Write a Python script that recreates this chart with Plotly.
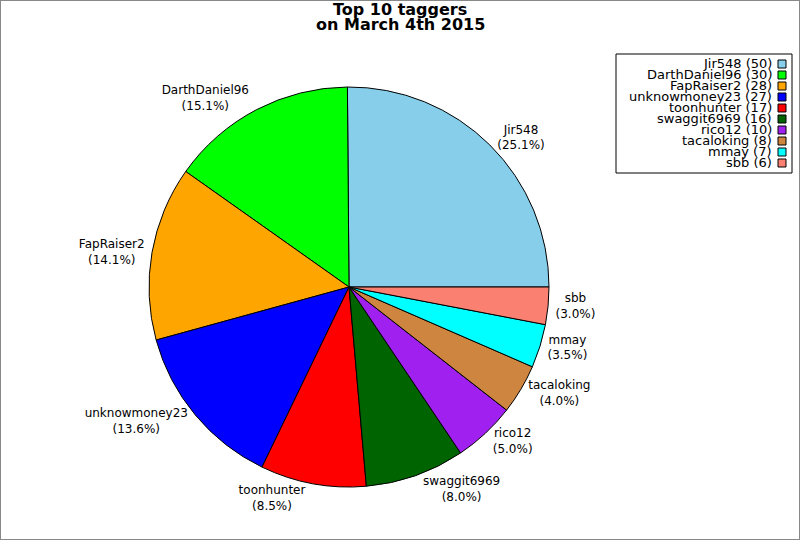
import plotly.graph_objects as go

names = ['Jir548', 'DarthDaniel96', 'FapRaiser2', 'unknowmoney23', 'toonhunter',
         'swaggit6969', 'rico12', 'tacaloking', 'mmay', 'sbb']
counts = [50, 30, 28, 27, 17, 16, 10, 8, 7, 6]
colors = ['#87CEEB', '#00FF00', '#FFA500', '#0000FF', '#FF0000',
          '#006400', '#A020F0', '#CD853F', '#00FFFF', '#FA8072']
title_lines = ['Top 10 taggers', 'on March 4th 2015']

W, H = 800, 540


def px_x(x):
    return x / W


def px_y(y):
    return 1 - y / H


# plotly anchors the end of the first slice at `rotation` when going counterclockwise,
# so shift it so the first slice starts at 3 o'clock like the original
first_share = 360 * counts[0] / sum(counts)
start_rotation = 90 - first_share

fig = go.Figure(go.Pie(
    labels=names,
    values=counts,
    sort=False,
    direction='counterclockwise',
    rotation=start_rotation,
    marker=dict(colors=colors, line=dict(color='black', width=1)),
    textposition='outside',
    texttemplate='%{label}<br>(%{percent:.1%})',
    textfont=dict(family='DejaVu Sans', size=12, color='black'),
    domain=dict(x=[px_x(149), px_x(549)], y=[px_y(487), px_y(87)]),
    showlegend=False,
))

annotations = []
for i, line in enumerate(title_lines):
    annotations.append(dict(
        text=f'<b>{line}</b>', xref='paper', yref='paper',
        x=0.5, y=px_y(10 + 15 * i), xanchor='center', yanchor='middle',
        showarrow=False, font=dict(size=16, family='DejaVu Sans', color='black')))

# hand-made legend: right aligned text with the colour box on the right, tight rows
shapes = [dict(type='rect', xref='paper', yref='paper',
               x0=px_x(616), x1=px_x(792), y0=px_y(173), y1=px_y(54),
               line=dict(color='black', width=1), fillcolor='white', layer='below')]
row_pitch = 11
for i, (n, c, col) in enumerate(zip(names, counts, colors)):
    yc = 64 + row_pitch * i
    annotations.append(dict(
        text=f'{n} ({c})', xref='paper', yref='paper',
        x=px_x(774), y=px_y(yc), xanchor='right', yanchor='middle',
        showarrow=False, font=dict(size=13, family='DejaVu Sans', color='black')))
    shapes.append(dict(type='rect', xref='paper', yref='paper',
                       x0=px_x(778), x1=px_x(786), y0=px_y(yc + 4), y1=px_y(yc - 4),
                       line=dict(color='black', width=1), fillcolor=col))

# grey frame round the whole image
shapes.append(dict(type='rect', xref='paper', yref='paper', x0=0, x1=1, y0=0, y1=1,
                   line=dict(color='#888888', width=2)))

fig.update_layout(
    width=W, height=H,
    margin=dict(l=0, r=0, t=0, b=0),
    paper_bgcolor='white',
    font=dict(family='DejaVu Sans', color='black'),
    annotations=annotations,
    shapes=shapes,
)

fig.write_html("out.html", config={'displayModeBar': False},
               post_script="document.body.style.margin='0';")
